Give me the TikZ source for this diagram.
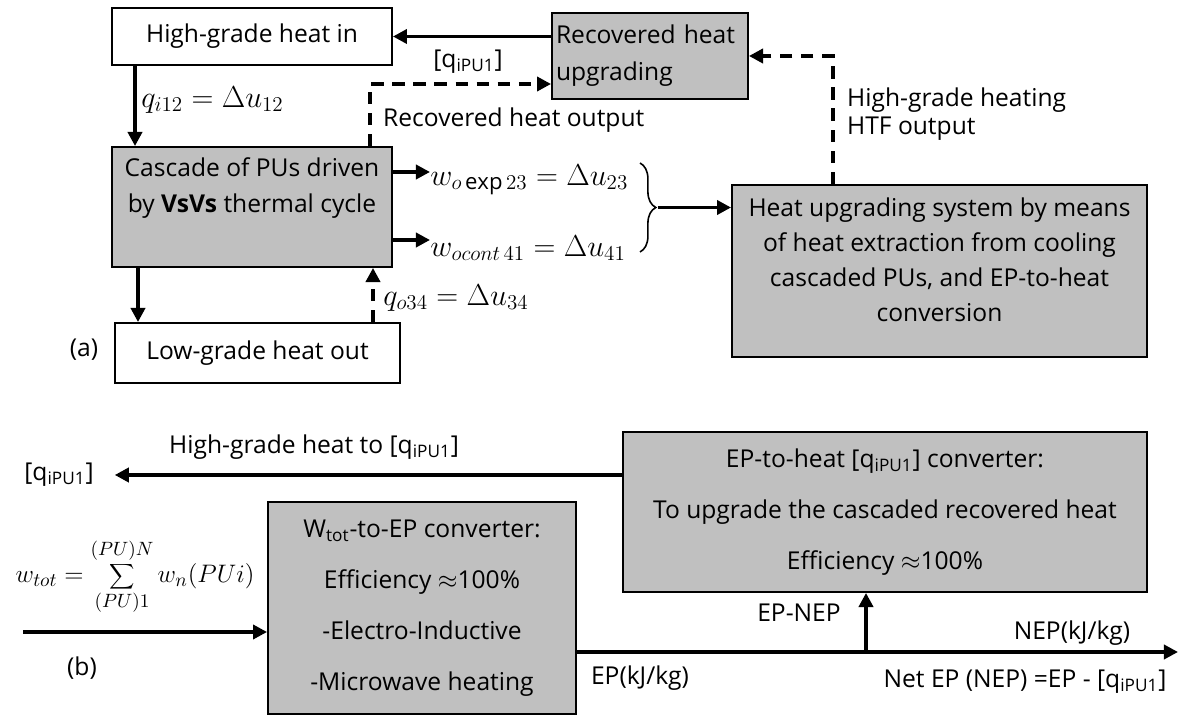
\documentclass[tikz,border=0pt]{standalone}
\usepackage{fontspec}
\setmainfont{Open Sans}
\usetikzlibrary{arrows.meta,decorations.pathreplacing}
\definecolor{boxgray}{RGB}{192,192,192}
\tikzset{
  box/.style={draw, line width=1.1pt, inner sep=0pt, align=center},
  graybox/.style={box, fill=boxgray},
  flow/.style={line width=2pt, -{Triangle[length=8pt,width=8pt]}},
  dflow/.style={flow, dash pattern=on 7pt off 5pt},
  eq/.style={font=\fontsize{18}{20}\selectfont, inner sep=0pt},
}

\begin{document}
\begin{tikzpicture}[x=0.02cm, y=-0.02cm, font=\fontsize{14}{20}\selectfont]
  \useasboundingbox (0,0) rectangle (1180,715);

  % (a) thermal cycle
  \node[box, minimum width=5.6cm, minimum height=1.14cm] (hgin) at (252,36.5) {High-grade heat in};
  \node[graybox, minimum width=5.6cm, minimum height=2.4cm] (casc) at (252,207) {};
  \node[align=center] (cascT) at (252,188) {Cascade of PUs driven\\by \textbf{VsVs} thermal cycle};
  \node[box, minimum width=5.7cm, minimum height=1.2cm] (lowout) at (257.5,353) {Low-grade heat out};
  \node[graybox, minimum width=3.92cm, minimum height=1.72cm, text width=3.76cm, align=left,
        font=\fontsize{14}{21}\selectfont] (recov) at (650,56) {Recovered heat\\upgrading};
  \node[graybox, minimum width=8.3cm, minimum height=3.44cm] (heatup) at (939.5,271) {};
  \node[align=center] (heatupT) at (939.5,260)
    {Heat upgrading system by means\\of heat extraction from cooling\\cascaded PUs, and EP-to-heat\\conversion};
  \node (tagA) at (84,350) {(a)};

  \draw[flow] (recov.west |- hgin.east) -- (hgin.east);
  \node (qup) at (468,62) {[q\textsubscript{iPU1}]};

  \draw[flow] (135,0 |- hgin.south) -- (135,0 |- casc.north);
  \node[eq, anchor=west] (qin) at (141,100) {$q_{i12} = \Delta u_{12}$};

  \draw[dflow] (370,0 |- casc.north) |- (recov.west |- 0,84);
  \node[anchor=west] (rhout) at (377,120) {Recovered heat output};

  \draw[flow] (138,0 |- casc.south) -- (138,0 |- lowout.north);
  \draw[dflow] (373,0 |- lowout.north) -- (373,0 |- casc.south);
  \node[eq, anchor=west] (qout) at (383,298) {$q_{o34} = \Delta u_{34}$};

  \node[eq, anchor=west] (wexp) at (430,180) {$w_{o\exp 23} = \Delta u_{23}$};
  \node[eq, anchor=west] (wcont) at (430,248) {$w_{ocont\,41} = \Delta u_{41}$};
  \draw[flow] (casc.east |- 0,172) -- (wexp.west |- 0,172);
  \draw[flow] (casc.east |- 0,240) -- (wcont.west |- 0,240);

  \coordinate (brt) at (640,163);
  \coordinate (brb) at (640,252);
  \draw[decorate, decoration={brace, amplitude=9pt}, line width=0.9pt] (brt) -- (brb) coordinate[midway] (brm);
  \draw[flow] ([xshift=10pt]brm) -- (heatup.west |- brm);

  \draw[dflow] (833,0 |- heatup.north) |- (recov.east);
  \node[align=left, anchor=west, font=\fontsize{14}{16}\selectfont] (htf) at (841,114) {High-grade heating\\HTF output};

  % (b) converters
  \node[graybox, minimum width=10.48cm, minimum height=3.2cm, font=\fontsize{14}{29}\selectfont] (eptoheat) at (885,512)
    {EP-to-heat [q\textsubscript{iPU1}] converter:\\To upgrade the cascaded recovered heat\\Efficiency $\approx$100\%};
  \node[graybox, minimum width=6.16cm, minimum height=4.24cm, font=\fontsize{14}{29}\selectfont] (wtoep) at (422,608)
    {W\textsubscript{tot}-to-EP converter:\\Efficiency $\approx$100\%\\-Electro-Inductive\\-Microwave heating};

  \node (qleft) at (59,475) {[q\textsubscript{iPU1}]};
  \draw[flow, shorten >=8.5pt] (eptoheat.west |- qleft) -- (qleft.east);
  \node[anchor=west] (hgto) at (163,447) {High-grade heat to [q\textsubscript{iPU1}]};

  \coordinate (win) at (23,632);
  \draw[flow] (win) -- (win -| wtoep.west);
  \node[inner sep=0pt, font=\fontsize{15}{18}\selectfont] (wtot) at (135,577) {$\displaystyle w_{tot} = \sum_{(PU)1}^{(PU)N} w_n(PUi)$};
  \node (tagB) at (82,668) {(b)};

  \coordinate (nepend) at (1178,652);
  \draw[flow] (wtoep.east |- nepend) -- (nepend);
  \draw[flow] (866,0 |- nepend) -- (866,0 |- eptoheat.south);
  \node (epnep) at (799,613) {EP-NEP};
  \node (nepkj) at (1072,633) {NEP(kJ/kg)};
  \node (netep) at (1025,682) {Net EP (NEP) =EP - [q\textsubscript{iPU1}]};
  \node (epkj) at (640,678) {EP(kJ/kg)};
\end{tikzpicture}
\end{document}
